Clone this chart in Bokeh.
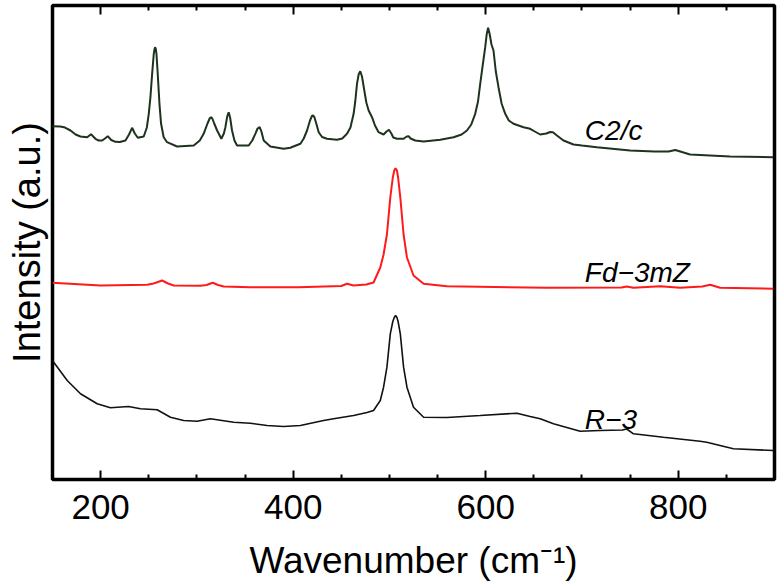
from bokeh.plotting import figure
from bokeh.models import Range1d, LinearAxis, FixedTicker, Label
from bokeh.embed import file_html
from bokeh.resources import INLINE

# ---- data (arbitrary intensity units) ----
c2c_wn = [150, 158, 162, 168.7, 174, 179, 186, 190, 194.6, 198, 201.6, 204.5, 207.4, 211, 215.4,
          220, 225.8, 229.5, 232.7, 235.5, 238.6, 244.8, 248, 250, 251.7, 253.5, 255.2, 256,
          256.6, 257.3, 258, 259.3, 261.1, 262.8, 265.5, 269, 279.4, 296.7, 303, 307, 311,
          313.5, 314.7, 316, 318, 321, 325.4, 328, 329.6, 331.5, 333, 334.5, 336.5, 339, 341.7,
          353.8, 357.5, 360.7, 363, 365.2, 367, 369.4, 376.3, 390.1, 397, 407.5, 411, 414.4,
          417.5, 419.5, 420.6, 422, 424, 426.5, 430, 435.2, 445.5, 451, 455.9, 459.5, 462.8,
          464.5, 466.3, 468, 469.7, 471.5, 473.9, 476, 478.4, 481.9, 485, 488.7, 493.9, 497,
          499.5, 502, 504, 507.8, 514.7, 518, 519.9, 522, 526.8, 535.5, 552.8, 566.6, 575,
          580.5, 585, 589.1, 592, 594.3, 597, 599.5, 601, 602.5, 604, 606, 608.1, 610.5, 613.3,
          616.5, 620.3, 624, 628.9, 639.3, 646.2, 651, 656.6, 663, 667, 669.8, 674, 680.8,
          691.2, 700, 715.4, 750, 775, 790, 797, 812.3, 853.8, 898.5]
c2c_int = [353.3, 353, 352.3, 349, 345, 343, 342.3, 345.3, 340.7, 339, 339, 341, 343.3, 339.5, 337.7,
           337.5, 339, 345, 351.7, 346, 341.7, 343, 352, 365.7, 382, 405.7, 425.7, 430.5,
           432.3, 430.5, 425.7, 405.7, 375.7, 355.7, 342.3, 337.3, 333, 334, 339, 345.7, 356,
           361.5, 362.3, 361, 356, 349, 340.7, 346, 352.3, 363, 367.3, 362, 349, 339, 334,
           334, 339, 345.7, 351, 352.3, 348, 339, 333, 330.7, 331.7, 335.7, 341, 349,
           359, 363.5, 364, 362.5, 356, 347.3, 342.5, 340.7, 339.7, 341, 345.7, 352, 365.7,
           378, 395.7, 405, 408.3, 403, 389, 377, 369, 362.3, 354, 347.3, 345, 348,
           349.7, 346, 342, 340.7, 340.7, 343, 343.3, 341, 339, 338, 339.7, 342.3, 345,
           349, 355, 365.7, 378, 395.7, 415, 432.3, 445, 451.7, 446, 435, 429, 408, 392.3,
           376, 365.7, 359, 355.7, 352.3, 350.7, 348, 345, 346, 347.5, 347.3, 344, 339,
           335, 334, 332.3, 329, 328, 328, 329.5, 325, 323, 322.3]

fd_wn = [150, 199.8, 248.3, 255, 263.9, 270, 276, 303.6, 310, 316.4, 322, 327.8, 355.5, 405.7,
         450, 455.9, 462.8, 476, 483.5, 490.5, 493.9, 497.4, 500.9, 503.5, 505, 506.4, 507.8,
         509, 511.3, 514.7, 518.2, 525, 535.5, 559.7, 663.5, 741, 746.5, 753.5, 781.2, 801.9,
         825, 833.1, 843.5, 898.8]
fd_int = [196.7, 194, 194.7, 196, 199, 196, 194, 193.7, 194.5, 196.7, 194.5, 193, 192.3, 192.3,
          193.5, 195.7, 194, 195, 197, 212, 225, 245, 282, 302, 309, 311.3, 309,
          302, 282, 245, 222, 204, 195.7, 193.3, 191.7, 192, 193, 191.7, 193.3, 191.7,
          193, 194.7, 191.7, 190.7]

r3_wn = [150, 153, 165.3, 179.1, 196.4, 210.2, 229, 241.4, 258.7, 272.5, 286.3, 300.2, 314,
         338.2, 355.5, 372.9, 390, 407.5, 431.6, 442, 462.8, 476.7, 483.5, 490.5, 493.9, 497.4,
         500.9, 503.5, 505, 506.4, 507.8, 509, 511.3, 514.7, 518.2, 525, 535.5, 559.7, 594.3,
         632.4, 646.2, 656.6, 670.4, 698.1, 718.9, 742, 746.5, 753.5, 784.6, 822.7, 829.6,
         857.3, 898.8]
r3_int = [119, 115, 99, 85.7, 75.7, 71.7, 73, 70.7, 69.7, 62.3, 59, 58.3, 60.7,
          57.3, 56.3, 54, 53, 54, 59, 60.7, 64, 67, 69, 79, 92.3, 112.3,
          145.7, 158, 162, 164, 162, 158, 145.7, 112.3, 92.3, 72.3, 62.3, 62, 64,
          66.3, 63, 60.7, 55.7, 48.3, 49, 49.5, 50.5, 45.7, 42.3, 38.3, 37.3,
          30.7, 29]

major_ticks = [200, 400, 600, 800]
minor_ticks = [250, 300, 350, 450, 500, 550, 650, 700, 750, 850]

FONT = "Liberation Sans"

p = figure(width=780, height=584, x_range=Range1d(150, 900), y_range=Range1d(0, 474),
           output_backend="svg", toolbar_location=None,
           min_border_left=52, min_border_right=6, min_border_top=5, min_border_bottom=105)
p.grid.visible = False
p.outline_line_color = "black"
p.outline_line_width = 3.5
p.outline_line_alpha = 1.0
p.background_fill_color = "white"
p.border_fill_color = "white"

ticker = FixedTicker(ticks=major_ticks, minor_ticks=minor_ticks)
xa = p.xaxis[0]
xa.ticker = ticker
xa.axis_line_color = None
xa.major_tick_in = 9
xa.major_tick_out = 0
xa.minor_tick_in = 5
xa.minor_tick_out = 0
xa.major_tick_line_width = 2
xa.minor_tick_line_width = 2
xa.major_label_text_font = FONT
xa.major_label_text_font_size = "35px"
xa.major_label_text_color = "black"
xa.major_label_standoff = 15
xa.axis_label = "Wavenumber (cm\u207b\u00b9)"
xa.axis_label_text_font = FONT
xa.axis_label_text_font_size = "37px"
xa.axis_label_text_font_style = "normal"
xa.axis_label_text_color = "black"
xa.axis_label_standoff = 18

ya = p.yaxis[0]
ya.ticker = FixedTicker(ticks=[], minor_ticks=[])
ya.axis_line_color = None
ya.major_tick_line_color = None
ya.minor_tick_line_color = None
ya.major_tick_out = 0
ya.major_tick_in = 0
ya.major_label_standoff = 0
ya.axis_label = "Intensity (a.u.)"
ya.axis_label_text_font = FONT
ya.axis_label_text_font_size = "38px"
ya.axis_label_text_font_style = "normal"
ya.axis_label_text_color = "black"
ya.axis_label_standoff = 5

top = LinearAxis(ticker=ticker, axis_line_color=None, major_tick_in=9, major_tick_out=0,
                 minor_tick_in=5, minor_tick_out=0, major_tick_line_width=2,
                 minor_tick_line_width=2, major_label_standoff=0,
                 major_label_overrides={t: "" for t in major_ticks})
p.add_layout(top, "above")

p.line(c2c_wn, c2c_int, line_color="#1d331d", line_width=2)
p.line(fd_wn, fd_int, line_color="#ff1a1a", line_width=2)
p.line(r3_wn, r3_int, line_color="#111111", line_width=1.6)

for txt, yy in [("C2/c", 349), ("Fd\u22123mZ", 207.3), ("R\u22123", 60)]:
    p.add_layout(Label(x=703, y=yy, text=txt, text_font=FONT, text_font_size="28px",
                       text_font_style="italic", text_color="black",
                       text_baseline="alphabetic", text_align="left"))

open("out.html", "w").write(file_html(p, INLINE))
